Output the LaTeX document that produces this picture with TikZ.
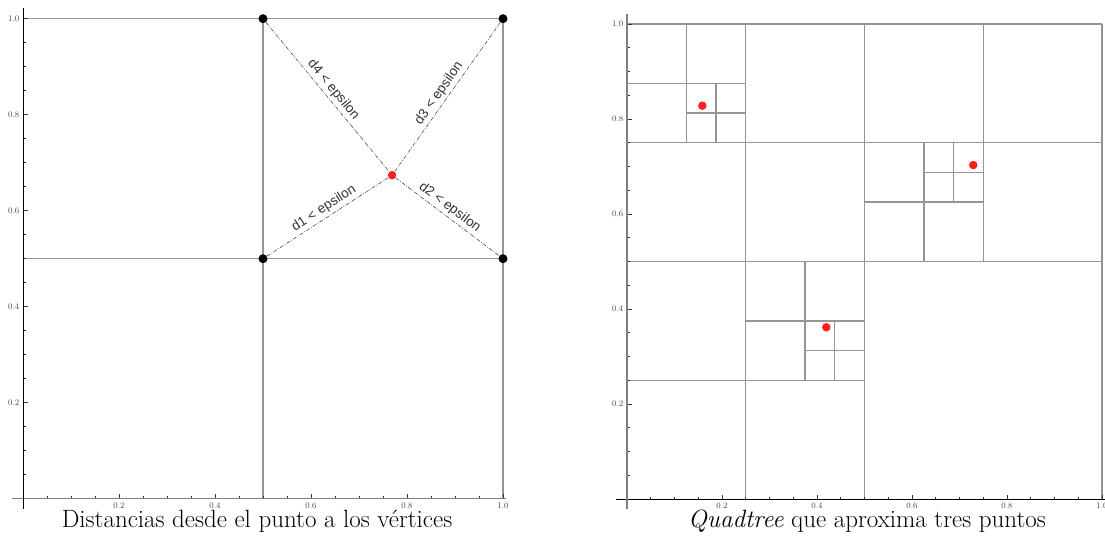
\documentclass[tikz,border=0pt]{standalone}
\usepackage{fontspec}
\newfontfamily\lblfont{Liberation Sans}
\definecolor{qtgray}{HTML}{959595}
\definecolor{qtred}{HTML}{FF1F1F}
\definecolor{qttick}{HTML}{4A4040}
\usetikzlibrary{positioning}

\begin{document}
\begin{tikzpicture}[
  cell/.style={draw=qtgray,line width=1.3pt},
  axisk/.style={draw=black,line width=0.9pt},
  axisg/.style={draw=gray,line width=1.2pt},
  tickmark/.style={black!80,line width=0.7pt},
  tlbl/.style={font=\fontsize{8.5}{9}\selectfont,text=qttick,inner sep=1.5pt},
  vdot/.style={circle,fill=black,inner sep=0pt,minimum size=9pt},
  pdot/.style={circle,fill=qtred,inner sep=0pt,minimum size=8.5pt},
  ddash/.style={black!80,line width=0.5pt,
    dash pattern=on 4pt off 1.5pt on 0.8pt off 1.5pt},
  dlbl/.style={above,sloped,font=\lblfont\fontsize{13.5}{15}\selectfont,
    inner sep=2.5pt},
  capline/.style={anchor=base,font=\fontsize{25}{27}\selectfont}]
  \useasboundingbox (0,0) rectangle (1105pt,538pt);

  \begin{scope}[shift={(23pt,39.3pt)},x=480pt,y=480pt]
    \draw[cell] (0,1) -- (1,1) (0,0.5) -- (1,0.5)
      (0.5,0) -- (0.5,1) (1,0) -- (1,1);
    \foreach \i in {1,...,20} {
      \draw[tickmark] (\i*0.05,0) -- ++(0,2.5pt);
      \draw[tickmark] (0,\i*0.05) -- ++(2.5pt,0);}
    \foreach \v [count=\k] in {0.2,0.4,0.6,0.8,1.0} {
      \draw[tickmark] (\v,0) -- ++(0,4.5pt);
      \draw[tickmark] (0,\v) -- ++(4.5pt,0);
      \node[tlbl,below] (lx\k) at (\v,-2pt) {\v};
      \node[tlbl,left] (ly\k) at (-2pt,\v) {\v};}
    \draw[axisg] (-0.023,0) -- (1.006,0);
    \draw[axisk] (0,-0.021) -- (0,1.022);
    \node[vdot] (v1) at (0.5,0.5) {};
    \node[vdot] (v2) at (1,0.5) {};
    \node[vdot] (v3) at (1,1) {};
    \node[vdot] (v4) at (0.5,1) {};
    \node[pdot] (pt) at (0.769,0.674) {};
    \draw[ddash] (v1) -- node[dlbl,pos=0.51] (e1) {d1 < epsilon} (pt);
    \draw[ddash] (pt) -- node[dlbl,pos=0.47] (e2) {d2 < epsilon} (v2);
    \draw[ddash] (pt) -- node[dlbl,pos=0.49] (e3) {d3 < epsilon} (v3);
    \draw[ddash] (v4) -- node[dlbl,pos=0.49] (e4) {d4 < epsilon} (pt);
  \end{scope}

  \begin{scope}[shift={(627pt,39pt)},x=475pt,y=475pt]
    \draw[cell] (0,1) -- (1,1) (1,0) -- (1,1)
      (0.25,0) -- (0.25,1) (0.5,0) -- (0.5,1) (0.75,0.5) -- (0.75,1)
      (0,0.75) -- (1,0.75) (0,0.5) -- (1,0.5) (0,0.25) -- (0.5,0.25)
      (0.125,0.75) -- (0.125,1) (0,0.875) -- (0.25,0.875)
      (0.1875,0.75) -- (0.1875,0.875) (0.125,0.8125) -- (0.25,0.8125)
      (0.625,0.5) -- (0.625,0.75) (0.5,0.625) -- (0.75,0.625)
      (0.6875,0.625) -- (0.6875,0.75) (0.625,0.6875) -- (0.75,0.6875)
      (0.375,0.25) -- (0.375,0.5) (0.25,0.375) -- (0.5,0.375)
      (0.4375,0.25) -- (0.4375,0.375) (0.375,0.3125) -- (0.5,0.3125);
    \foreach \i in {1,...,20} {
      \draw[tickmark] (\i*0.05,0) -- ++(0,2.5pt);
      \draw[tickmark] (0,\i*0.05) -- ++(2.5pt,0);}
    \foreach \v [count=\k] in {0.2,0.4,0.6,0.8,1.0} {
      \draw[tickmark] (\v,0) -- ++(0,4.5pt);
      \draw[tickmark] (0,\v) -- ++(4.5pt,0);
      \node[tlbl,below] (rx\k) at (\v,-2pt) {\v};
      \node[tlbl,left] (ry\k) at (-2pt,\v) {\v};}
    \draw[axisk] (-0.023,0) -- (1.01,0);
    \draw[axisg] (0,-0.021) -- (0,1.021);
    \node[pdot] (q1) at (0.1586,0.828) {};
    \node[pdot] (q2) at (0.729,0.703) {};
    \node[pdot] (q3) at (0.4196,0.3615) {};
  \end{scope}

  \node[capline] (capA) at (257pt,11pt) {Distancias desde el punto a los vértices};
  \node[capline] (capB) at (867pt,11pt) {\textit{Quadtree} que aproxima tres puntos};
\end{tikzpicture}
\end{document}
